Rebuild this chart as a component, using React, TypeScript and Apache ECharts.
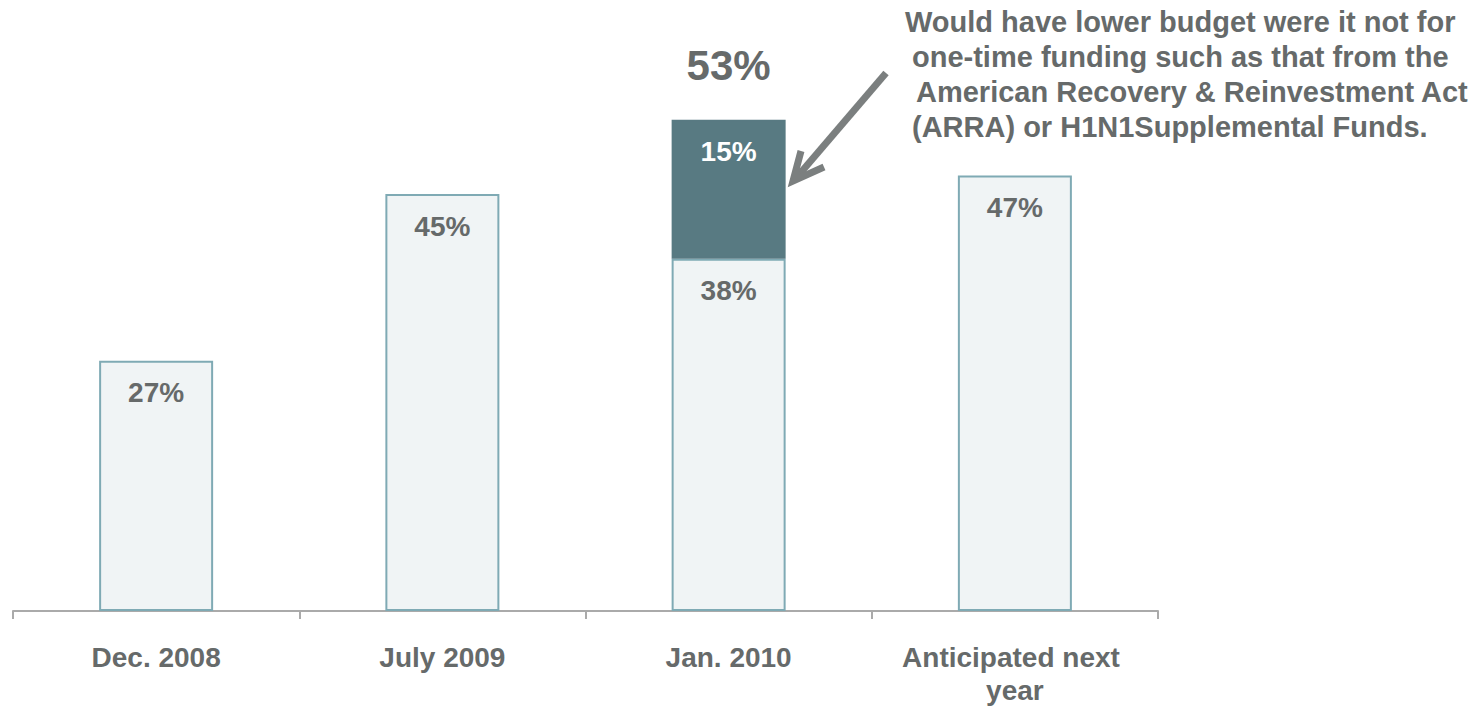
import React, { useEffect, useRef } from "react";
import * as echarts from "echarts";

const categories = ["Dec. 2008", "July 2009", "Jan. 2010", "Anticipated next year"];
const baseValues = [27, 45, 38, 47];
const fundedValues = [null, null, 15, null];
const totalValues = [null, null, 53, null];
const noteLines = [
  "Would have lower budget were it not for",
  "one-time funding such as that from the",
  "American Recovery & Reinvestment Act",
  "(ARRA) or H1N1Supplemental Funds.",
];
const noteX = [905, 912, 916, 912];

const TEXT = "#666a6a";
const FONT = "'Liberation Sans', Arial, sans-serif";

export default function App() {
  const ref = useRef<HTMLDivElement>(null);
  useEffect(() => {
    const chart = echarts.init(ref.current!, null, { renderer: "svg" });
    chart.setOption({
      animation: false,
      textStyle: { fontFamily: FONT },
      grid: { left: 13, right: 319, top: 55, bottom: 92 },
      xAxis: {
        type: "category",
        data: categories,
        axisLine: { lineStyle: { color: "#aaaaaa", width: 2 } },
        axisTick: { show: true, length: 8, lineStyle: { color: "#aaaaaa", width: 2 } },
        axisLabel: {
          interval: 0,
          margin: 30,
          color: TEXT,
          fontSize: 28,
          fontWeight: "bold",
          fontFamily: FONT,
          lineHeight: 33,
          width: 260,
          overflow: "break",
        },
      },
      yAxis: { type: "value", min: 0, max: 60, show: false, splitLine: { show: false } },
      series: [
        {
          type: "bar",
          stack: "a",
          barWidth: 114,
          data: baseValues,
          itemStyle: { color: "#f0f4f5", borderColor: "#7faab4", borderWidth: 2 },
          label: {
            show: true,
            position: "insideTop",
            distance: 18,
            formatter: "{c}%",
            color: TEXT,
            fontSize: 28,
            fontWeight: "bold",
            fontFamily: FONT,
          },
        },
        {
          type: "bar",
          stack: "a",
          barWidth: 114,
          data: fundedValues,
          itemStyle: { color: "#587a82", borderColor: "#587a82", borderWidth: 2 },
          label: {
            show: true,
            position: "insideTop",
            distance: 18,
            formatter: "{c}%",
            color: "#ffffff",
            fontSize: 28,
            fontWeight: "bold",
            fontFamily: FONT,
          },
        },
        {
          type: "scatter",
          data: totalValues,
          symbolSize: 1,
          itemStyle: { color: "rgba(0,0,0,0)", opacity: 1 },
          label: {
            show: true,
            position: "top",
            distance: 33,
            formatter: "{c}%",
            color: TEXT,
            opacity: 1,
            fontSize: 42,
            fontWeight: "bold",
            fontFamily: FONT,
          },
        },
      ],
      graphic: [
        ...noteLines.map((t, i) => ({
          type: "text",
          x: noteX[i],
          y: 22 + i * 35,
          style: {
            text: t,
            fill: TEXT,
            font: `bold 29px ${FONT}`,
            verticalAlign: "middle",
          },
        })),
        {
          type: "line",
          shape: { x1: 886, y1: 73, x2: 797, y2: 177 },
          style: { stroke: "#7b7f7f", lineWidth: 7 },
        },
        {
          type: "polyline",
          shape: { points: [[801, 151], [793, 181], [824, 167]] },
          style: { stroke: "#7b7f7f", lineWidth: 7, fill: "none", lineJoin: "miter" },
        },
      ],
    });
    return () => chart.dispose();
  }, []);
  return (
    <div
      ref={ref}
      style={{ position: "fixed", left: 0, top: 0, width: 1477, height: 707, background: "#fff" }}
    />
  );
}
